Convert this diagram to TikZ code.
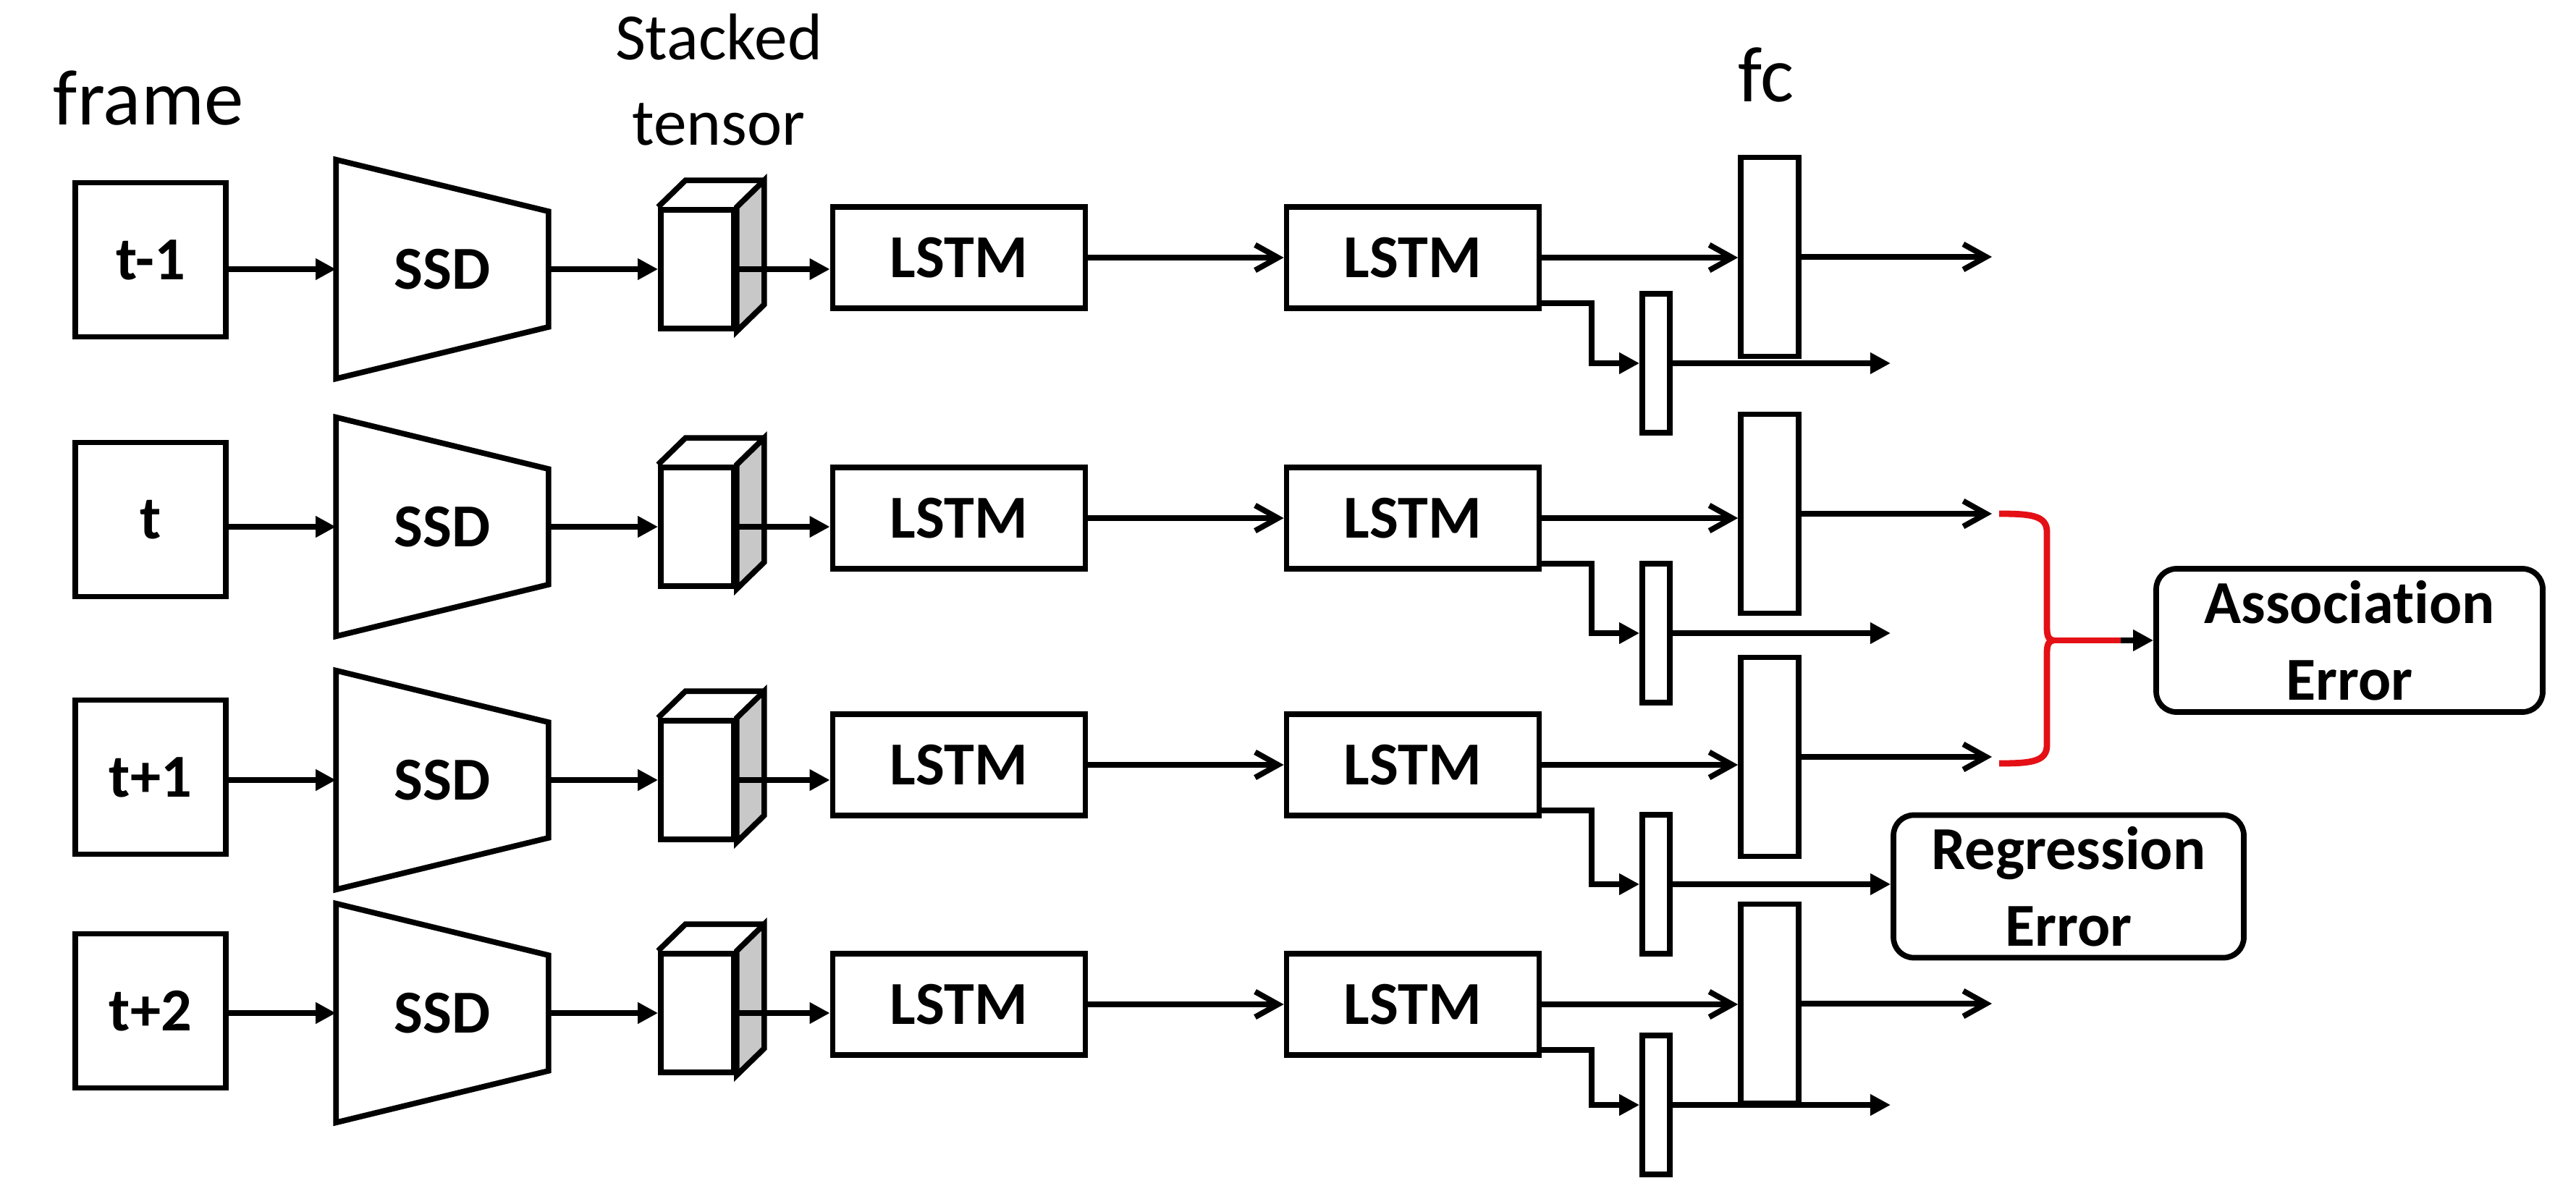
\documentclass[tikz,border=0pt]{standalone}
\usepackage{fontspec}
\setmainfont{Carlito}[Ligatures=NoCommon]
\usetikzlibrary{arrows.meta}

\definecolor{sidegray}{RGB}{200,200,200}
\definecolor{bracered}{RGB}{228,16,22}

\tikzset{
  boxlbl/.style={font=\fontsize{24}{30}\selectfont\bfseries},
  toplbl/.style={font=\fontsize{31}{37}\selectfont, anchor=base},
  framebox/.style={draw, boxlbl, minimum width=2.08cm, minimum height=2.13cm},
  lstmbox/.style={draw, boxlbl, minimum width=3.49cm, minimum height=1.40cm},
  fcbar/.style={draw, minimum width=0.80cm, minimum height=2.75cm},
  sfcbar/.style={draw, minimum width=0.38cm, minimum height=1.92cm},
  errbox/.style={draw, boxlbl, rounded corners=0.28cm, align=center},
  ssdbox/.style={boxlbl, minimum width=2.86cm, minimum height=2.95cm,
    append after command={\pgfextra{\draw (\tikzlastnode.north west) -- ([yshift=-0.715cm]\tikzlastnode.north east)
      -- ([yshift=0.715cm]\tikzlastnode.south east) -- (\tikzlastnode.south west) -- cycle;}}},
  tensorbox/.style={draw, minimum width=1.01cm, minimum height=1.64cm,
    append after command={\pgfextra{
      \filldraw[fill=sidegray] (\tikzlastnode.north east) -- ++(0.38,0.37)
        -- ([shift={(0.38,0.37)}]\tikzlastnode.south east) -- (\tikzlastnode.south east) -- cycle;
      \draw (\tikzlastnode.north west) -- ++(0.38,0.37) -- ([shift={(0.38,0.37)}]\tikzlastnode.north east);}}},
  arr/.style={-{Triangle[length=8pt,width=8pt]}},
  barb/.style={-{Straight Barb[length=9pt,width=10pt]}}
}

\begin{document}
\begin{tikzpicture}[line width=2.2pt]
\useasboundingbox (0,0) rectangle (35.59,-16.57);

    % labels on top
    \node[toplbl] (framelbl) at (2.05,-1.72) {frame};
    \node[font=\fontsize{26}{33.5}\selectfont, align=center] (stacklbl) at (9.93,-1.10) {Stacked\\tensor};
    \node[toplbl] (fclbl) at (24.40,-1.41) {fc};

    \coordinate (elbow) at (21.99,0);
    \coordinate (sfout) at (26.12,0);
    \coordinate (fcout) at (27.52,0);

    % row t-1
    \node[framebox] (f1) at (2.08,-3.59) {t-1};
    \node[ssdbox] (s1) at (6.11,-3.72) {SSD};
    \node[tensorbox] (c1) at (9.635,-3.72) {};
    \node[lstmbox] (l1) at (13.25,-3.56) {LSTM};
    \node[lstmbox] (m1) at (19.52,-3.56) {LSTM};
    \node[fcbar] (fc1) at (24.45,-3.55) {};
    \node[sfcbar] (sf1) at (22.88,-5.02) {};

    % row t
    \node[framebox] (f2) at (2.08,-7.18) {t};
    \node[ssdbox] (s2) at (6.11,-7.28) {SSD};
    \node[tensorbox] (c2) at (9.635,-7.28) {};
    \node[lstmbox] (l2) at (13.25,-7.16) {LSTM};
    \node[lstmbox] (m2) at (19.52,-7.16) {LSTM};
    \node[fcbar] (fc2) at (24.45,-7.10) {};
    \node[sfcbar] (sf2) at (22.88,-8.75) {};

    % row t+1
    \node[framebox] (f3) at (2.08,-10.74) {t+1};
    \node[ssdbox] (s3) at (6.11,-10.78) {SSD};
    \node[tensorbox] (c3) at (9.635,-10.78) {};
    \node[lstmbox] (l3) at (13.25,-10.57) {LSTM};
    \node[lstmbox] (m3) at (19.52,-10.57) {LSTM};
    \node[fcbar] (fc3) at (24.45,-10.46) {};
    \node[sfcbar] (sf3) at (22.88,-12.22) {};

    % row t+2
    \node[framebox] (f4) at (2.08,-13.97) {t+2};
    \node[ssdbox] (s4) at (6.11,-14.00) {SSD};
    \node[tensorbox] (c4) at (9.635,-14.00) {};
    \node[lstmbox] (l4) at (13.25,-13.88) {LSTM};
    \node[lstmbox] (m4) at (19.52,-13.88) {LSTM};
    \node[fcbar] (fc4) at (24.45,-13.87) {};
    \node[sfcbar] (sf4) at (22.88,-15.27) {};

    % errors
    \node[errbox, minimum width=5.34cm, minimum height=1.98cm] (assoc) at (32.46,-8.85) {Association\\Error};
    \node[errbox, minimum width=4.84cm, minimum height=1.97cm] (regr) at (28.58,-12.25) {Regression\\Error};

\draw[arr] (f1.east |- s1.west) -- (s1.west);
\draw[arr] (s1.east) -- (c1.west);
\draw[arr] (c1.east) -- (c1.east -| l1.west);
\draw[barb] (l1.east) -- (m1.west);
\draw[barb] (m1.east) -- (m1.east -| fc1.west);
\draw[barb] (fc1.east) -- (fc1.east -| fcout);
\draw[arr] ([yshift=0.11cm]m1.south east) -| (elbow |- sf1.west) -- (sf1.west);
\draw[arr] (sf1.east) -- (sf1.east -| sfout);

\draw[arr] (f2.east |- s2.west) -- (s2.west);
\draw[arr] (s2.east) -- (c2.west);
\draw[arr] (c2.east) -- (c2.east -| l2.west);
\draw[barb] (l2.east) -- (m2.west);
\draw[barb] (m2.east) -- (m2.east -| fc2.west);
\draw[barb] (fc2.east) -- (fc2.east -| fcout);
\draw[arr] ([yshift=0.11cm]m2.south east) -| (elbow |- sf2.west) -- (sf2.west);
\draw[arr] (sf2.east) -- (sf2.east -| sfout);

\draw[arr] (f3.east |- s3.west) -- (s3.west);
\draw[arr] (s3.east) -- (c3.west);
\draw[arr] (c3.east) -- (c3.east -| l3.west);
\draw[barb] (l3.east) -- (m3.west);
\draw[barb] (m3.east) -- (m3.east -| fc3.west);
\draw[barb] (fc3.east) -- (fc3.east -| fcout);
\draw[arr] ([yshift=0.11cm]m3.south east) -| (elbow |- sf3.west) -- (sf3.west);
\draw[arr] (sf3.east) -- (sf3.east -| regr.west);

\draw[arr] (f4.east |- s4.west) -- (s4.west);
\draw[arr] (s4.east) -- (c4.west);
\draw[arr] (c4.east) -- (c4.east -| l4.west);
\draw[barb] (l4.east) -- (m4.west);
\draw[barb] (m4.east) -- (m4.east -| fc4.west);
\draw[barb] (fc4.east) -- (fc4.east -| fcout);
\draw[arr] ([yshift=0.11cm]m4.south east) -| (elbow |- sf4.west) -- (sf4.west);
\draw[arr] (sf4.east) -- (sf4.east -| sfout);

% red brace into association error
\coordinate (brtip) at (28.38,-8.85);
\draw[arr] (brtip) -- (assoc.west);
\draw[bracered, line width=2.5pt] (brtip) -- ++(0.92,0);
\draw[bracered, line width=2.5pt] (27.62,-7.10) .. controls (28.05,-7.10) and (28.28,-7.12) .. (28.28,-7.35)
    -- (28.28,-8.68) .. controls (28.28,-8.80) and (28.31,-8.85) .. (brtip)
    .. controls (28.31,-8.85) and (28.28,-8.90) .. (28.28,-9.02)
    -- (28.28,-10.30) .. controls (28.28,-10.53) and (28.05,-10.55) .. (27.62,-10.55);
\end{tikzpicture}
\end{document}
